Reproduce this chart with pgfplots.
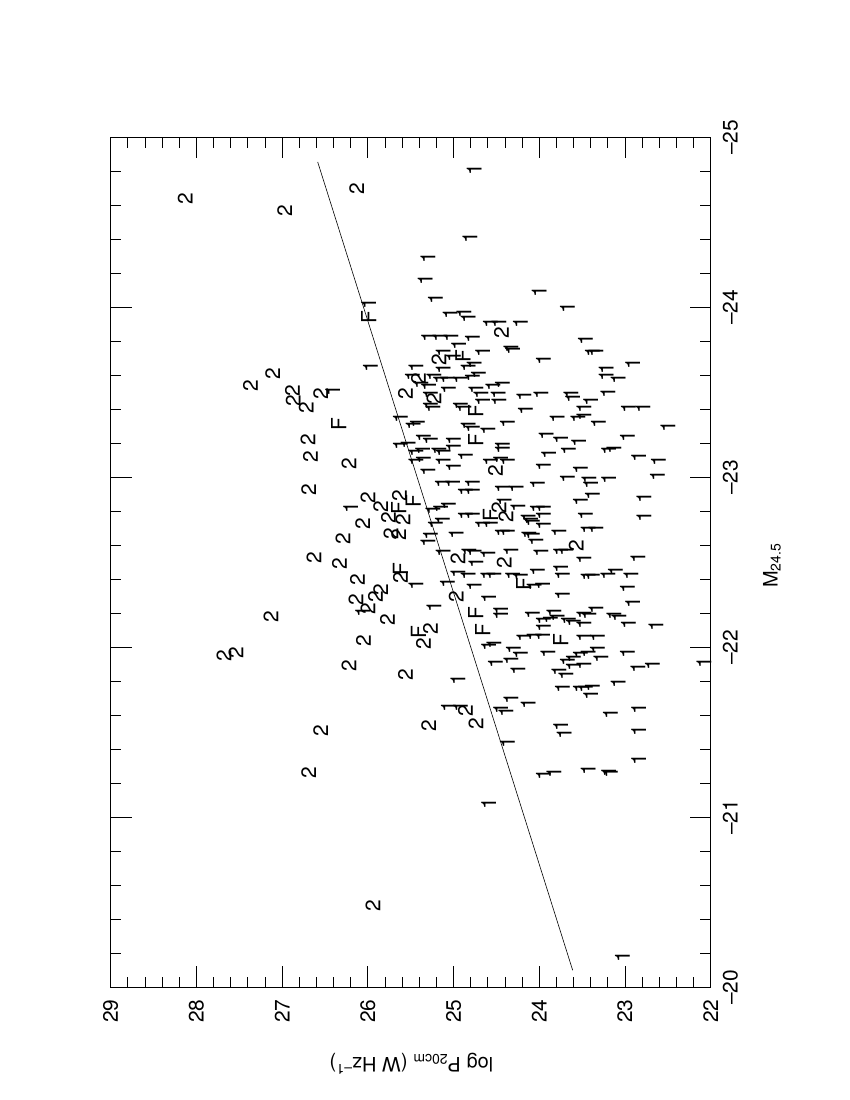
\documentclass[border=0pt]{standalone}
\usepackage{fontspec}
\setmainfont{TeX Gyre Heros}
\usepackage{pgfplots}
\pgfplotsset{compat=1.18}
\begin{document}
\begin{tikzpicture}
\path (-110.7bp,-112.7bp) rectangle (739.3bp,987.3bp);
\begin{axis}[
  scale only axis, width=600bp, height=850bp,
  xmin=22, xmax=29, x dir=reverse,
  ymin=-25, ymax=-20, y dir=reverse,
  xtick={22,...,29}, ytick={-25,...,-20},
  xticklabels={22,23,24,25,26,27,28,29},
  yticklabels={--25,--24,--23,--22,--21,--20},
  minor x tick num=4, minor y tick num=4,
  major tick length=21bp, minor tick length=10.5bp,
  every tick/.style={line width=0.8bp, black},
  axis line style={line width=0.8bp},
  xtick pos=both, ytick pos=both,
  yticklabel pos=right,
  xticklabel style={font=\fontsize{21}{21}\selectfont, rotate=90, anchor=east, inner xsep=12bp, inner ysep=0pt},
  yticklabel style={font=\fontsize{21}{21}\selectfont, rotate=90, anchor=north, inner ysep=12bp, inner xsep=0pt},
  xlabel={log P\textsubscript{20cm} (W Hz\textsuperscript{--1})},
  xlabel style={at={(axis description cs:0.501,-0.09)}, anchor=center, rotate=180, font=\fontsize{20}{24}\selectfont},
  ylabel={M\textsubscript{24.5}},
  ylabel style={at={(axis description cs:1.102,0.496)}, anchor=center, rotate=0, font=\fontsize{20}{24}\selectfont},
  clip=false,
  text mark as node=true,
  text mark style={font=\fontsize{21}{21}\selectfont, rotate=90, inner sep=0pt, anchor=center},
]
% regression line
\addplot[black, line width=0.6bp, no marks] coordinates {(23.61,-20.10) (26.585,-24.855)};
% class 2
\addplot[only marks, mark=text, text mark={2}] coordinates {
(28.13,-24.64) (26.97,-24.57) (26.13,-24.70) (27.11,-23.61) (27.37,-23.54)
(26.88,-23.51) (26.87,-23.45) (26.72,-23.41) (26.55,-23.49) (26.70,-23.22)
(26.67,-23.12) (26.22,-23.08) (26.69,-22.93) (26.00,-22.88) (25.85,-22.83)
(25.63,-22.89) (25.76,-22.76) (25.59,-22.75) (26.06,-22.73) (25.73,-22.67)
(25.64,-22.66) (26.29,-22.64) (26.63,-22.53) (26.33,-22.49) (25.62,-22.41)
(26.12,-22.40) (25.85,-22.34) (25.91,-22.30) (26.14,-22.28) (26.00,-22.23)
(25.77,-22.16) (26.05,-22.04) (26.22,-21.89) (25.56,-21.84) (27.13,-22.18)
(27.68,-21.95) (27.54,-21.97) (26.55,-21.51) (26.69,-21.26) (25.94,-20.48)
(25.27,-22.11) (25.35,-22.02) (25.56,-23.49) (24.44,-23.85) (25.17,-23.69)
(25.41,-23.58) (25.23,-23.46) (24.51,-23.04) (24.47,-22.82) (24.39,-22.77)
(23.57,-22.60) (24.95,-22.52) (24.41,-22.50) (24.97,-22.30) (24.86,-21.63)
(24.74,-21.55) (25.29,-21.54)
};
% class F
\addplot[only marks, mark=text, text mark={F}] coordinates {
(25.99,-23.94) (26.34,-23.31) (24.74,-23.39) (24.74,-23.22) (25.47,-22.86)
(25.64,-22.82) (24.57,-22.78) (25.62,-22.46) (25.41,-22.09) (24.74,-22.20)
(24.66,-22.10) (23.75,-22.04) (24.18,-22.37) (24.89,-23.71)
};
% class 1
\addplot[only marks, mark=text, text mark={1}] coordinates {
(25.99,-24.02) (25.97,-23.65) (24.76,-24.81) (24.81,-24.41) (25.30,-24.29)
(25.33,-24.16) (25.21,-24.05) (24.00,-24.09) (23.67,-24.00) (25.04,-23.96)
(24.88,-23.97) (24.83,-23.94) (24.57,-23.91) (24.47,-23.91) (24.22,-23.91)
(25.29,-23.83) (25.16,-23.83) (25.03,-23.83) (24.78,-23.82) (24.94,-23.78)
(25.12,-23.74) (24.66,-23.74) (24.33,-23.76) (24.31,-23.75) (23.46,-23.81)
(23.38,-23.74) (23.34,-23.74) (23.95,-23.69) (23.22,-23.64) (22.91,-23.67)
(25.00,-23.71) (24.76,-23.67) (25.44,-23.65) (25.12,-23.64) (26.41,-23.51)
(26.20,-22.82) (25.62,-23.35) (25.47,-23.31) (25.62,-23.19) (25.53,-23.20)
(25.44,-23.15) (25.44,-23.10) (25.48,-23.60) (23.22,-23.60) (23.08,-23.58)
(25.23,-23.60) (25.15,-23.58) (25.07,-23.58) (24.92,-23.58) (24.78,-23.59)
(24.71,-23.61) (24.83,-23.65) (25.38,-23.55) (25.29,-23.54) (25.06,-23.52)
(24.74,-23.52) (24.68,-23.49) (24.54,-23.54) (24.43,-23.55) (24.48,-23.49)
(24.47,-23.45) (24.18,-23.48) (23.98,-23.49) (23.63,-23.49) (23.61,-23.47)
(23.20,-23.50) (23.40,-23.45) (25.27,-23.49) (25.27,-23.43) (25.24,-23.41)
(24.92,-23.43) (24.88,-23.41) (24.66,-23.45) (24.16,-23.40) (23.79,-23.35)
(23.55,-23.35) (23.48,-23.36) (23.48,-23.41) (22.96,-23.41) (22.79,-23.41)
(23.31,-23.32) (22.50,-23.30) (25.42,-23.32) (24.83,-23.31) (24.78,-23.29)
(24.60,-23.28) (24.37,-23.32) (23.92,-23.25) (23.75,-23.23) (23.54,-23.21)
(22.97,-23.24) (25.35,-23.24) (25.27,-23.22) (25.00,-23.22) (25.00,-23.18)
(24.43,-23.19) (24.43,-23.17) (25.36,-23.16) (25.17,-23.16) (25.12,-23.15)
(24.86,-23.13) (23.89,-23.14) (23.66,-23.16) (23.19,-23.16) (23.13,-23.17)
(22.84,-23.12) (22.61,-23.10) (25.35,-23.11) (25.12,-23.10) (24.57,-23.10)
(24.45,-23.11) (24.37,-23.10) (23.95,-23.07) (23.52,-23.05) (25.30,-23.04)
(25.00,-23.06) (22.62,-23.01) (23.67,-23.00) (23.42,-22.99) (23.40,-22.96)
(23.19,-22.99) (25.13,-22.97) (25.01,-22.97) (24.78,-22.97) (24.43,-22.94)
(24.27,-22.94) (24.02,-22.96) (24.86,-22.92) (24.78,-22.92) (23.38,-22.90)
(23.52,-22.86) (22.78,-22.88) (25.15,-22.82) (25.06,-22.84) (25.24,-22.81)
(24.41,-22.86) (24.25,-22.83) (24.02,-22.82) (23.95,-22.82) (24.13,-22.77)
(24.10,-22.75) (24.08,-22.74) (23.95,-22.78) (24.86,-22.78) (24.78,-22.78)
(25.13,-22.75) (23.46,-22.78) (22.78,-22.77) (24.66,-22.73) (24.57,-22.73)
(23.95,-22.72) (25.21,-22.73) (24.43,-22.68) (24.37,-22.68) (24.12,-22.67)
(24.08,-22.66) (23.77,-22.68) (23.43,-22.70) (23.34,-22.70) (24.97,-22.67)
(25.27,-22.66) (24.04,-22.63) (25.30,-22.62) (25.12,-22.56) (23.75,-22.57)
(23.69,-22.57) (23.98,-22.56) (24.33,-22.57) (24.82,-22.57) (24.76,-22.56)
(24.60,-22.55) (24.74,-22.50) (23.48,-22.52) (22.85,-22.53) (24.95,-22.44)
(24.83,-22.43) (24.60,-22.43) (24.53,-22.43) (24.31,-22.43) (24.22,-22.42)
(24.02,-22.45) (23.75,-22.47) (23.73,-22.43) (23.43,-22.42) (23.38,-22.42)
(23.20,-22.43) (23.11,-22.45) (22.93,-22.43) (25.44,-22.37) (25.07,-22.38)
(24.76,-22.36) (24.06,-22.36) (23.96,-22.37) (22.97,-22.35) (23.73,-22.31)
(24.59,-22.29) (22.91,-22.26) (25.23,-22.24) (24.45,-22.22) (24.45,-22.19)
(24.08,-22.20) (23.83,-22.21) (23.79,-22.18) (23.95,-22.16) (23.87,-22.17)
(23.66,-22.16) (23.48,-22.20) (23.42,-22.19) (23.34,-22.23) (23.13,-22.19)
(23.07,-22.18) (23.60,-22.15) (23.48,-22.14) (22.96,-22.14) (22.64,-22.13)
(23.95,-22.12) (24.18,-22.06) (24.06,-22.07) (23.96,-22.07) (23.48,-22.06)
(23.32,-22.06) (24.59,-22.01) (24.53,-22.02) (24.30,-21.99) (23.90,-21.97)
(24.33,-21.93) (24.22,-21.96) (23.67,-21.92) (23.60,-21.94) (23.52,-21.96)
(23.43,-21.97) (23.32,-21.99) (23.28,-21.94) (22.97,-21.97) (24.51,-21.91)
(23.60,-21.89) (23.48,-21.90) (24.25,-21.87) (22.85,-21.88) (22.68,-21.90)
(23.77,-21.86) (23.69,-21.84) (24.95,-21.81) (22.08,-21.91) (23.73,-21.76)
(23.52,-21.76) (23.46,-21.76) (23.38,-21.77) (23.40,-21.72) (23.08,-21.79)
(24.33,-21.70) (24.13,-21.67) (25.06,-21.65) (24.92,-21.65) (24.45,-21.64)
(24.39,-21.62) (23.17,-21.61) (22.84,-21.64) (23.75,-21.54) (23.71,-21.49)
(22.84,-21.51) (24.37,-21.44) (22.84,-21.34) (23.95,-21.25) (23.83,-21.26)
(23.43,-21.28) (23.19,-21.27) (23.17,-21.26) (26.06,-22.21) (24.59,-21.08)
(23.03,-20.18)
};
\end{axis}
\end{tikzpicture}
\end{document}
